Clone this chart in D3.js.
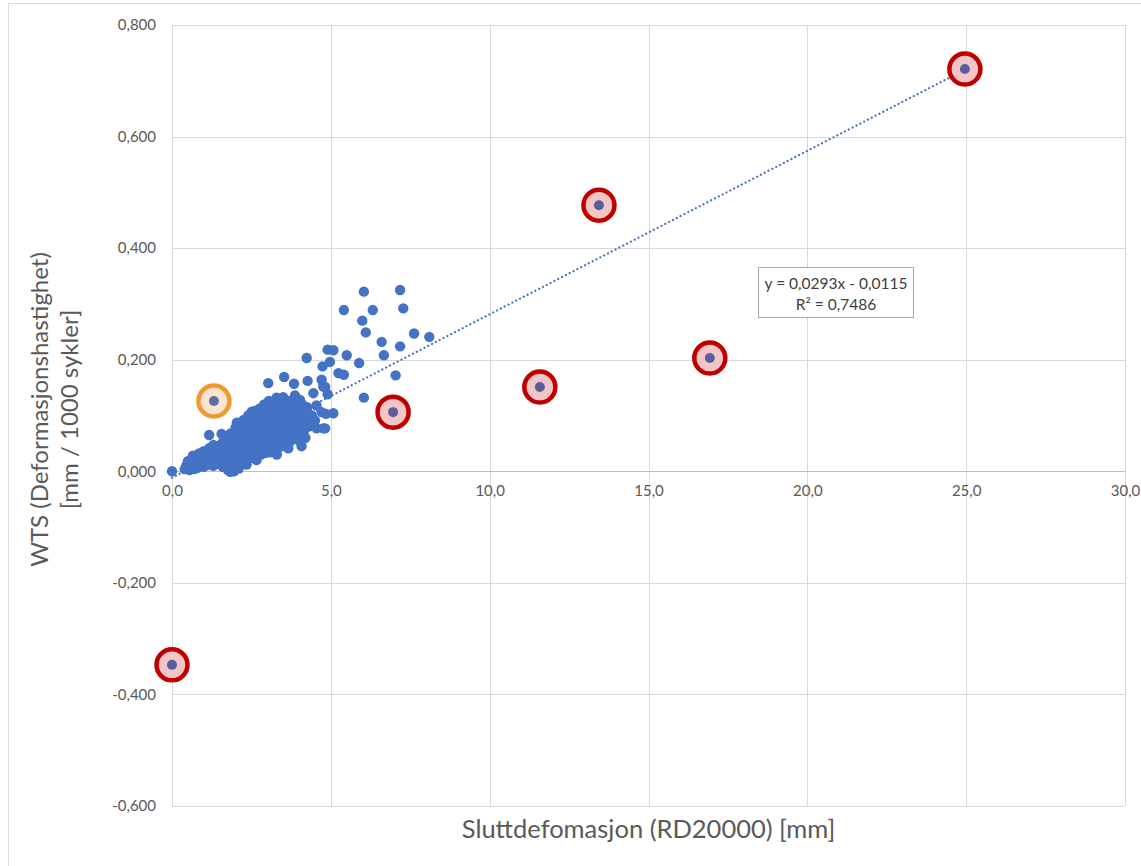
<!DOCTYPE html>
<html>
<head>
<meta charset="utf-8">
<script src="https://cdn.jsdelivr.net/npm/d3@7"></script>
<style>
  html, body { margin: 0; padding: 0; background: #fff; }
  svg { display: block; font-family: Lato, "Open Sans", "Liberation Sans", sans-serif; }
</style>
</head>
<body>
<svg id="chart" width="1141" height="866"></svg>
<script>
// Measured specimens: [final deformation RD20000 (mm), WTS (mm / 1000 cycles)]
const measurements = [
  [0.0, 0.000],
  // dense band of the bulk of the specimens
  [0.40, 0.004], [0.55, 0.002], [0.70, 0.004],
  [0.45, 0.010], [0.50, 0.018], [0.62, 0.008], [0.60, 0.021], [0.66, 0.028],
  [0.80, 0.006], [0.82, 0.015], [0.78, 0.025], [0.85, 0.032],
  [1.00, 0.008], [0.98, 0.018], [1.03, 0.028], [1.00, 0.036],
  [1.15, 0.012], [1.17, 0.022], [1.13, 0.032], [1.18, 0.042],
  [1.30, 0.010], [1.32, 0.020], [1.28, 0.030], [1.33, 0.040], [1.30, 0.047],
  [1.45, 0.014], [1.47, 0.026], [1.43, 0.036], [1.48, 0.046],
  [1.60, 0.008], [1.62, 0.018], [1.58, 0.030], [1.63, 0.042], [1.60, 0.052],
  [1.75, 0.003], [1.77, 0.015], [1.73, 0.026], [1.78, 0.038], [1.74, 0.050], [1.76, 0.058],
  [1.83, -0.001], [1.95, 0.000], [2.10, 0.005],
  [1.90, 0.006], [1.92, 0.018], [1.88, 0.030], [1.93, 0.042], [1.89, 0.055], [1.91, 0.064],
  [2.05, 0.012], [2.07, 0.024], [2.03, 0.036], [2.08, 0.048], [2.04, 0.060], [2.06, 0.072],
  [2.20, 0.016], [2.22, 0.028], [2.18, 0.040], [2.23, 0.052], [2.19, 0.064], [2.21, 0.076],
  [2.35, 0.012], [2.35, 0.022], [2.37, 0.032], [2.33, 0.044], [2.38, 0.056], [2.34, 0.068], [2.36, 0.080], [2.33, 0.090],
  [2.50, 0.024], [2.52, 0.034], [2.48, 0.046], [2.53, 0.058], [2.49, 0.070], [2.51, 0.082], [2.50, 0.094],
  [2.66, 0.020], [2.65, 0.026], [2.67, 0.038], [2.63, 0.050], [2.68, 0.062], [2.64, 0.074], [2.66, 0.086], [2.65, 0.098],
  [2.80, 0.030], [2.82, 0.040], [2.78, 0.052], [2.83, 0.064], [2.79, 0.076], [2.81, 0.088], [2.80, 0.100],
  [2.95, 0.033], [2.97, 0.044], [2.93, 0.056], [2.98, 0.068], [2.94, 0.080], [2.96, 0.092], [2.95, 0.104], [2.92, 0.115],
  [3.10, 0.034], [3.12, 0.046], [3.08, 0.058], [3.13, 0.070], [3.09, 0.082], [3.11, 0.094], [3.10, 0.106], [3.12, 0.118],
  [3.30, 0.030], [3.25, 0.040], [3.27, 0.052], [3.23, 0.064], [3.28, 0.076], [3.24, 0.088], [3.26, 0.100], [3.25, 0.112],
  [3.40, 0.044], [3.42, 0.056], [3.38, 0.068], [3.43, 0.080], [3.39, 0.092], [3.41, 0.104], [3.40, 0.116],
  [3.55, 0.048], [3.57, 0.060], [3.53, 0.072], [3.58, 0.084], [3.54, 0.096], [3.56, 0.108], [3.55, 0.120],
  [3.70, 0.052], [3.72, 0.064], [3.68, 0.076], [3.73, 0.088], [3.69, 0.100], [3.71, 0.112],
  [3.85, 0.058], [3.87, 0.070], [3.83, 0.082], [3.88, 0.094], [3.84, 0.106],
  [4.00, 0.064], [4.02, 0.076], [3.98, 0.088], [4.03, 0.100], [3.99, 0.112],
  [4.15, 0.072], [4.17, 0.084], [4.13, 0.096], [4.18, 0.108],
  [4.30, 0.080], [4.32, 0.092], [4.28, 0.104],
  // upper edge of the band
  [1.70, 0.062], [1.85, 0.068], [2.00, 0.078], [2.15, 0.086], [2.25, 0.092],
  [2.40, 0.100], [2.60, 0.108], [2.75, 0.112], [2.90, 0.120], [3.05, 0.126],
  [3.20, 0.124], [3.35, 0.130], [3.50, 0.133], [3.65, 0.126], [3.80, 0.122],
  [3.95, 0.124], [4.10, 0.120], [4.25, 0.115], [4.35, 0.086], [4.40, 0.100],
  [4.20, 0.060], [4.05, 0.052],
  // scattered specimens around and above the band
  [1.17, 0.065], [1.56, 0.067], [2.04, 0.087], [2.51, 0.107], [3.03, 0.158],
  [3.08, 0.123], [3.29, 0.132], [3.53, 0.169], [3.66, 0.041], [3.84, 0.157],
  [3.87, 0.136], [4.03, 0.128], [4.08, 0.045], [4.13, 0.062], [4.24, 0.203],
  [4.27, 0.162], [4.45, 0.140], [4.50, 0.091], [4.55, 0.118], [4.55, 0.077],
  [4.71, 0.164], [4.71, 0.106], [4.74, 0.188], [4.76, 0.077], [4.76, 0.152],
  [4.82, 0.151], [4.82, 0.077], [4.85, 0.103], [4.90, 0.218], [4.90, 0.138],
  [4.97, 0.196], [5.08, 0.217], [5.08, 0.104], [5.24, 0.176], [5.41, 0.173],
  [5.41, 0.289], [5.50, 0.208], [5.89, 0.194], [5.99, 0.270], [6.04, 0.322],
  [6.04, 0.132], [6.10, 0.249], [6.32, 0.289], [6.60, 0.232], [6.67, 0.208],
  [7.04, 0.172], [7.18, 0.325], [7.18, 0.224], [7.28, 0.292], [7.62, 0.247],
  [8.10, 0.241]
];

// Outliers marked with a red ring
const flaggedRed = [
  [0.0, -0.347], [6.96, 0.106], [11.58, 0.151], [13.44, 0.477], [16.93, 0.203], [24.96, 0.721]
];
// Specimen marked with an orange ring
const flaggedOrange = [
  [1.32, 0.126]
];

// Linear trend line coefficients and label
const trendSlope = 0.0293;
const trendIntercept = -0.0115;
const trendLabel = ["y = 0,0293x - 0,0115", "R² = 0,7486"];

const xTicks = [0, 5, 10, 15, 20, 25, 30];
const yTicks = [-0.6, -0.4, -0.2, 0, 0.2, 0.4, 0.6, 0.8];

const xTitle = "Sluttdefomasjon (RD20000) [mm]";
const yTitle = ["WTS (Deformasjonshastighet)", "[mm / 1000 sykler]"];

const svg = d3.select("#chart");

// Outer chart frame
svg.append("rect")
  .attr("x", 8.5).attr("y", 3.5)
  .attr("width", 1150).attr("height", 880)
  .attr("fill", "#fff").attr("stroke", "#d9d9d9").attr("stroke-width", 1);

const x = d3.scaleLinear().domain([0, 30]).range([172, 1125]);
const y = d3.scaleLinear().domain([-0.6, 0.8]).range([806, 25]);

const nbLocale = d3.formatLocale({ decimal: ",", thousands: " ", grouping: [3], currency: ["", " kr"], minus: "-" });
const fmtX = nbLocale.format(".1f");
const fmtY = nbLocale.format(".3f");

// Gridlines
const grid = svg.append("g").attr("shape-rendering", "crispEdges");
grid.selectAll("line.gx").data(xTicks).join("line")
  .attr("class", "gx")
  .attr("x1", d => Math.round(x(d)) + 0.5).attr("x2", d => Math.round(x(d)) + 0.5)
  .attr("y1", y(0.8)).attr("y2", y(-0.6))
  .attr("stroke", "#d9d9d9");
grid.selectAll("line.gy").data(yTicks).join("line")
  .attr("class", "gy")
  .attr("x1", x(0)).attr("x2", x(30))
  .attr("y1", d => Math.round(y(d)) + 0.5).attr("y2", d => Math.round(y(d)) + 0.5)
  .attr("stroke", d => d === 0 ? "#bfbfbf" : "#d9d9d9");

// Y axis labels
const yAxis = svg.append("g")
  .attr("transform", `translate(${x(0) - 16},0)`)
  .call(d3.axisLeft(y).tickValues(yTicks).tickFormat(fmtY).tickSize(0).tickPadding(0));
yAxis.select(".domain").remove();
yAxis.selectAll("text")
  .attr("fill", "#595959").attr("font-size", 15).attr("font-family", "Lato, sans-serif");

// X axis labels, placed along the zero line
const xAxis = svg.append("g")
  .attr("transform", `translate(0,${y(0) + 14})`)
  .call(d3.axisBottom(x).tickValues(xTicks).tickFormat(fmtX).tickSize(0).tickPadding(0));
xAxis.select(".domain").remove();
xAxis.selectAll("text")
  .attr("fill", "#595959").attr("font-size", 15).attr("font-family", "Lato, sans-serif");

// Axis titles
svg.append("text")
  .attr("x", (x(0) + x(30)) / 2).attr("y", 838)
  .attr("text-anchor", "middle")
  .attr("fill", "#595959").attr("font-size", 25.5)
  .text(xTitle);

const yT = svg.append("text")
  .attr("transform", `translate(48,${(y(0.8) + y(-0.6)) / 2 - 6}) rotate(-90)`)
  .attr("text-anchor", "middle")
  .attr("fill", "#595959").attr("font-size", 24);
yT.selectAll("tspan").data(yTitle).join("tspan")
  .attr("x", 0).attr("dy", (d, i) => i === 0 ? 0 : 30)
  .text(d => d);

// Specimen markers
svg.append("g").selectAll("circle").data(measurements).join("circle")
  .attr("cx", d => x(d[0])).attr("cy", d => y(d[1]))
  .attr("r", 5.2)
  .attr("fill", "#4472c4");

// Trend line
const trendX = [0, 25];
svg.append("line")
  .attr("x1", x(trendX[0])).attr("y1", y(trendSlope * trendX[0] + trendIntercept))
  .attr("x2", x(trendX[1])).attr("y2", y(trendSlope * trendX[1] + trendIntercept))
  .attr("stroke", "#4472c4").attr("stroke-width", 2.2)
  .attr("stroke-dasharray", "0.1,4.2").attr("stroke-linecap", "round");

// Ringed specimens
function ring(data, stroke, fill, dot) {
  const g = svg.append("g");
  g.selectAll("circle.ring").data(data).join("circle")
    .attr("class", "ring")
    .attr("cx", d => x(d[0])).attr("cy", d => y(d[1]))
    .attr("r", 15.5)
    .attr("fill", fill).attr("stroke", stroke).attr("stroke-width", 4.5);
  g.selectAll("circle.dot").data(data).join("circle")
    .attr("class", "dot")
    .attr("cx", d => x(d[0])).attr("cy", d => y(d[1]))
    .attr("r", 5)
    .attr("fill", dot);
}
ring(flaggedRed, "#c00000", "#f2c6c6", "#5b5e9e");
ring(flaggedOrange, "#ee9a33", "#fbe5d2", "#5f6fa3");

// Trend line equation box
const box = svg.append("g");
box.append("rect")
  .attr("x", 758.5).attr("y", 267.5).attr("width", 155).attr("height", 50)
  .attr("fill", "#fff").attr("stroke", "#a6a6a6").attr("stroke-width", 1);
box.selectAll("text").data(trendLabel).join("text")
  .attr("x", 836).attr("y", (d, i) => 288.5 + i * 21)
  .attr("text-anchor", "middle")
  .attr("fill", "#404040").attr("font-size", 15.5)
  .text(d => d);
</script>
</body>
</html>
